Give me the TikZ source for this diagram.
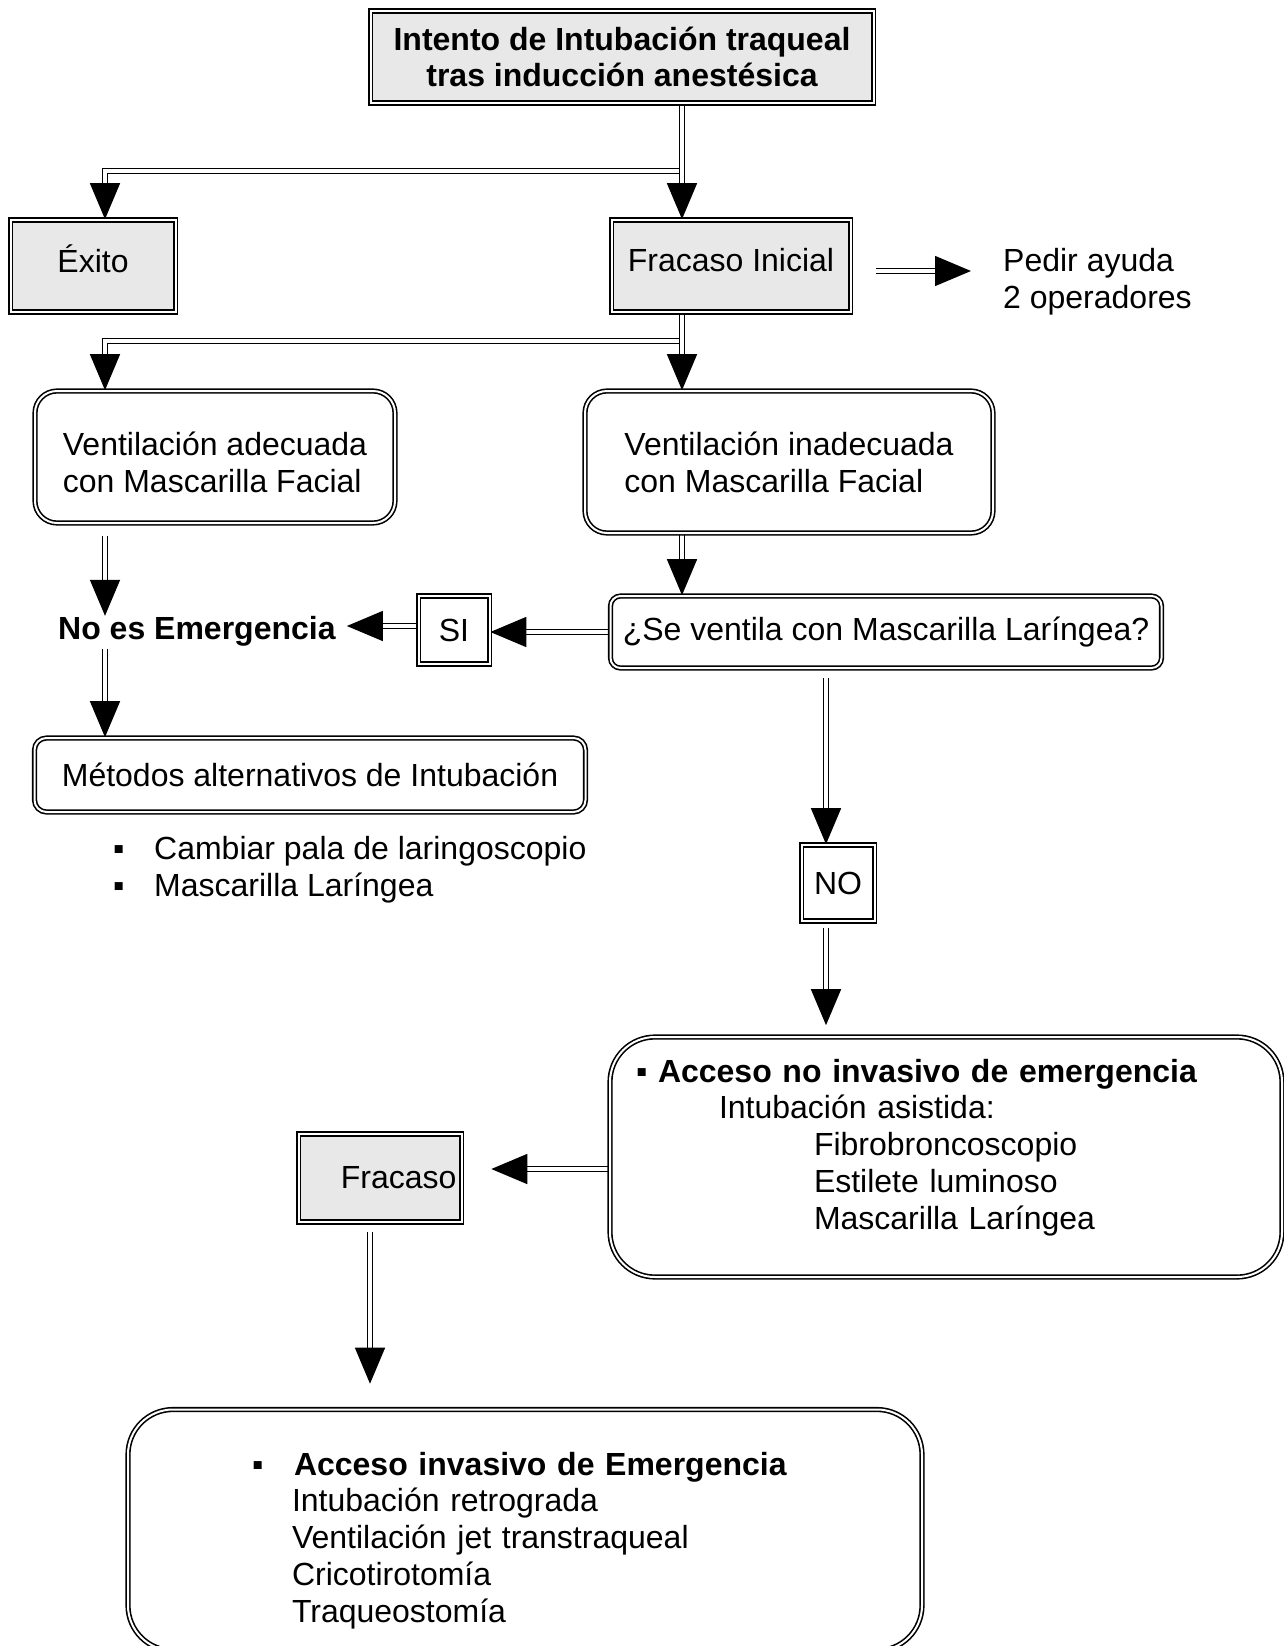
\documentclass[tikz,border=0pt]{standalone}
\usepackage{fontspec}
\setmainfont{Liberation Sans}
\usetikzlibrary{arrows.meta,backgrounds}
\definecolor{grisclaro}{RGB}{232,232,232}

\begin{document}
\begin{tikzpicture}[x=1pt,y=-1pt,
    font=\fontsize{32}{36.75}\selectfont,
    negrita/.style={font=\fontsize{32}{36.75}\selectfont\bfseries},
    caja/.style={draw,double,line width=1.6pt,double distance=2pt,inner sep=0pt},
    gris/.style={caja,fill=grisclaro},
    redonda/.style={caja,rounded corners=#1},
    flecha/.style={double,line width=1.4pt,double distance=3.2pt,-{Triangle[length=36pt,width=30pt,fill=black]}}]
    \useasboundingbox (0,0) rectangle (1284,1646);

    % columnas y ramas de las flechas
    \coordinate (cI) at (105,0);
    \coordinate (cD) at (682,0);
    \coordinate (cN) at (826,0);
    \coordinate (cF) at (370,0);
    \coordinate (r1) at (682,171);
    \coordinate (r2) at (682,341);

    \node[gris,negrita,align=center,minimum width=503pt,minimum height=92pt] (A) at (622,57) {Intento de Intubación traqueal\\tras inducción anestésica};
    \node[gris,text depth=15pt,minimum width=165pt,minimum height=92pt] (B) at (93,266) {Éxito};
    \node[gris,text depth=12pt,minimum width=239pt,minimum height=92pt] (C) at (731,266) {Fracaso Inicial};
    \node[anchor=west,align=left,inner sep=0pt] (D) at (1003,282) {Pedir ayuda\\2 operadores};
    \node[redonda=22pt,align=left,minimum width=360pt,minimum height=132pt] (E) at (215,457) {\rule{0pt}{35pt}Ventilación adecuada\\con Mascarilla Facial};
    \node[redonda=22pt,align=left,minimum width=408pt,minimum height=142pt] (F) at (789,462) {Ventilación inadecuada\\con Mascarilla Facial};
    \node[negrita,anchor=west,inner sep=0pt] (G) at (58,631) {No es Emergencia};
    \node[caja,minimum width=71pt,minimum height=68pt] (H) at (454,630) {SI};
    \node[redonda=10pt,minimum width=551pt,minimum height=72pt] (I) at (886,632) {¿Se ventila con Mascarilla Laríngea?};
    \node[redonda=12pt,minimum width=551pt,minimum height=74pt] (J) at (310,775) {Métodos alternativos de Intubación};
    \node[anchor=west,align=left,inner sep=0pt] (K) at (113,870) {\makebox[41pt][l]{▪}Cambiar pala de laringoscopio\\\makebox[41pt][l]{▪}Mascarilla Laríngea};
    \node[caja,minimum width=73pt,minimum height=76pt] (L) at (838,883) {NO};
    \node[redonda=45pt,align=left,text width=620pt,inner xsep=26pt,minimum width=672pt,minimum height=240pt] (M) at (946,1157) {▪ \textbf{Acceso no invasivo de emergencia}\\\hspace*{83pt}Intubación asistida:\\\hspace*{178pt}Fibrobroncoscopio\\\hspace*{178pt}Estilete luminoso\\\hspace*{178pt}Mascarilla Laríngea\\[-11pt]\mbox{}};
    \node[gris,align=right,text width=153pt,inner xsep=5pt,minimum width=163pt,minimum height=88pt] (N) at (380,1178) {Fracaso};
    \node[redonda=45pt,align=left,text width=546pt,inner xsep=124pt,minimum width=794pt,minimum height=241pt] (O) at (525,1530) {\rule{0pt}{44pt}\makebox[42pt][l]{▪}\textbf{Acceso invasivo de Emergencia}\\\hspace*{40pt}Intubación retrograda\\\hspace*{40pt}Ventilación jet transtraqueal\\\hspace*{40pt}Cricotirotomía\\\hspace*{40pt}Traqueostomía};

    \begin{scope}[on background layer]
    \draw[flecha] (r1) -| (B.north -| cI);
    \draw[flecha] (A.south -| cD) -- (C.north -| cD);
    \draw[flecha,transform canvas={yshift=-5pt},shorten <=25pt,shorten >=32pt] (C.east) -- (C.east -| D.west);
    \draw[flecha] (r2) -| (E.north -| cI);
    \draw[flecha] (C.south -| cD) -- (F.north -| cD);
    \draw[flecha,shorten <=12pt] (E.south -| cI) -- (G.north -| cI);
    \draw[flecha,shorten <=3pt] (G.south -| cI) -- (J.north -| cI);
    \draw[flecha] (F.south -| cD) -- (I.north -| cD);
    \draw[flecha] (I.west) -- (I.west -| H.east);
    \draw[flecha,transform canvas={yshift=4pt},shorten >=11pt] (H.west) -- (H.west -| G.east);
    \draw[flecha,shorten <=9pt] (I.south -| cN) -- (L.north -| cN);
    \draw[flecha,shorten <=6pt,shorten >=11pt] (L.south -| cN) -- (M.north -| cN);
    \draw[flecha,transform canvas={yshift=9pt},shorten >=29pt] (M.west |- N.east) -- (N.east);
    \draw[flecha,shorten <=9pt,shorten >=25pt] (N.south -| cF) -- (O.north -| cF);
    \end{scope}
\end{tikzpicture}
\end{document}
